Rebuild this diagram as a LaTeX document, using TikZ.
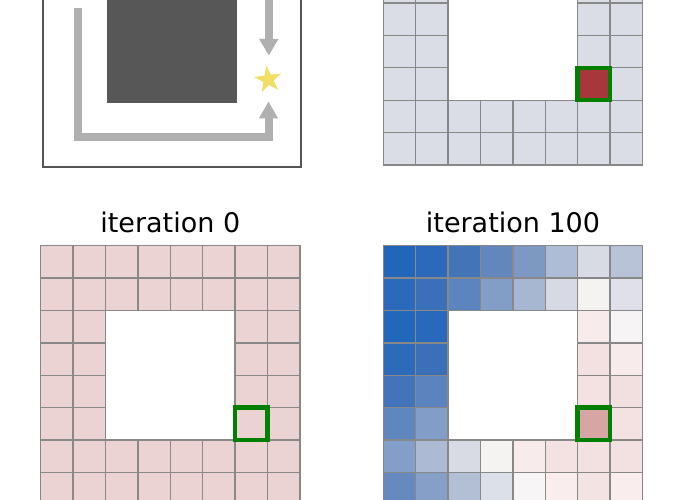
\documentclass[tikz,border=0pt]{standalone}
\usepackage{fontspec}
\setmainfont{DejaVu Sans}
\usetikzlibrary{shapes.geometric}
\definecolor{gridgray}{HTML}{888888}
\definecolor{arrowgray}{HTML}{B0B0B0}
\definecolor{obstgray}{HTML}{575757}
\definecolor{framegray}{HTML}{555555}
\definecolor{goalgreen}{HTML}{007F00}
\definecolor{staryellow}{HTML}{F0DF64}
\definecolor{lightcell}{HTML}{DADDE5}
\definecolor{pinkcell}{HTML}{EBD2D3}
\definecolor{redcell}{HTML}{A8373C}
\tikzset{
  cellbox/.style={draw=gridgray, line width=1.3pt},
  pathline/.style={draw=arrowgray, line width=8pt, line join=miter},
  headtri/.style={fill=arrowgray},
  goalbox/.style={draw=goalgreen, line width=4.5pt},
  titletext/.style={font=\fontsize{27}{32}\selectfont, anchor=base, inner sep=0pt},
  framebox/.style={draw=framegray, line width=2.2pt},
}
\begin{document}
\begin{tikzpicture}[x=1pt,y=-1pt]
\useasboundingbox (0,0) rectangle (680,500);
\clip (0,0) rectangle (680,500);
\fill[white] (0,0) rectangle (680,500);

% ---------- top left: maze sketch ----------
\fill[obstgray] (107.3,-100) rectangle (236.7,102.6);
\draw[framebox] (43.3,-100) -- (43.3,167.3) -- (301.3,167.3) -- (301.3,-100);
\coordinate (p0) at (78,8);
\coordinate (p1) at (78,137);
\coordinate (p2) at (268.5,137);
\coordinate (p3) at (268.5,118);
\coordinate (h1l) at (258.8,118.5);
\coordinate (h1r) at (278.2,118.5);
\coordinate (h1t) at (268.5,101.7);
\draw[pathline] (p0) -- (p1) -- (p2) -- (p3);
\fill[headtri] (h1l) -- (h1r) -- (h1t) -- cycle;
\coordinate (q0) at (268.8,-10);
\coordinate (q1) at (268.8,40);
\coordinate (h2l) at (259.1,39);
\coordinate (h2r) at (278.5,39);
\coordinate (h2t) at (268.8,55.3);
\draw[pathline] (q0) -- (q1);
\fill[headtri] (h2l) -- (h2r) -- (h2t) -- cycle;
\begin{scope}[shift={(268.3,79.6)}]
  \fill[staryellow] (98:14.2pt) -- (134:5.5pt) -- (170:14.2pt) -- (206:5.5pt) -- (242:14.2pt)
    -- (278:5.5pt) -- (314:14.2pt) -- (350:5.5pt) -- (26:14.2pt) -- (62:5.5pt) -- cycle;
\end{scope}

% ---------- top right: grid with goal ----------
\foreach \r in {0,...,7} {
  \foreach \c in {0,...,7} {
    \pgfmathtruncatemacro\hole{and(and(\c>1,\c<6),\r<6)}
    \ifnum\hole=0
      \fill[lightcell] ({383.3+\c*32.4},{-94.2+\r*32.4}) rectangle ++(32.4,32.4);
    \fi
  }
}
\fill[redcell] ({383.3+6*32.4},{-94.2+5*32.4}) rectangle ++(32.4,32.4);
\foreach \r in {0,...,7} {
  \foreach \c in {0,...,7} {
    \pgfmathtruncatemacro\hole{and(and(\c>1,\c<6),\r<6)}
    \ifnum\hole=0
      \draw[cellbox] ({383.3+\c*32.4},{-94.2+\r*32.4}) rectangle ++(32.4,32.4);
    \fi
  }
}
\draw[goalbox] ({383.3+6*32.4},{-94.2+5*32.4}) rectangle ++(32.4,32.4);

% ---------- bottom left: iteration 0 ----------
\node[titletext] (title0) at (170.3,232) {iteration 0};
\foreach \r in {0,...,7} {
  \foreach \c in {0,...,7} {
    \pgfmathtruncatemacro\hole{and(and(\c>1,\c<6),and(\r>1,\r<6))}
    \ifnum\hole=0
      \fill[pinkcell] ({40.7+\c*32.4},{245.7+\r*32.4}) rectangle ++(32.4,32.4);
    \fi
  }
}
\foreach \r in {0,...,7} {
  \foreach \c in {0,...,7} {
    \pgfmathtruncatemacro\hole{and(and(\c>1,\c<6),and(\r>1,\r<6))}
    \ifnum\hole=0
      \draw[cellbox] ({40.7+\c*32.4},{245.7+\r*32.4}) rectangle ++(32.4,32.4);
    \fi
  }
}
\draw[goalbox] ({40.7+6*32.4},{245.7+5*32.4}) rectangle ++(32.4,32.4);

% ---------- bottom right: iteration 100 ----------
\node[titletext] (title100) at (513,232) {iteration 100};
\foreach \r/\c/\h in {
  0/0/2066BB, 0/1/2C69BA, 0/2/4474B8, 0/3/6387BC, 0/4/7D99C3, 0/5/AEBCD5, 0/6/D9DBE4, 0/7/B9C3D7,
  1/0/2B69BB, 1/1/3A6FB9, 1/2/5C85BF, 1/3/829DC6, 1/4/A7B6D1, 1/5/D7DAE4, 1/6/F5F3F2, 1/7/DFE0E9,
  2/0/2167BB, 2/1/2969BB, 2/6/F8EBEB, 2/7/F6F4F4,
  3/0/2C6ABA, 3/1/3B70B9, 3/6/F3E0E0, 3/7/F7EBEB,
  4/0/4373B8, 4/1/5B84BF, 4/6/F4E1E1, 4/7/F2DFDF,
  5/0/5F86BD, 5/1/829DC7, 5/6/D6A5A4, 5/7/F4E2E2,
  6/0/839EC7, 6/1/ADBAD3, 6/2/D8DBE4, 6/3/F4F3F2, 6/4/F8EBEB, 6/5/F4E1E1, 6/6/F3E1E1, 6/7/F3E1E1,
  7/0/6689BF, 7/1/869FC6, 7/2/B3BFD5, 7/3/DCE0E9, 7/4/F7F5F5, 7/5/F9EDED, 7/6/F4E3E3, 7/7/F9EDED} {
  \definecolor{cellc}{HTML}{\h}
  \fill[cellc] ({383.3+\c*32.4},{245.7+\r*32.4}) rectangle ++(32.4,32.4);
}
\foreach \r in {0,...,7} {
  \foreach \c in {0,...,7} {
    \pgfmathtruncatemacro\hole{and(and(\c>1,\c<6),and(\r>1,\r<6))}
    \ifnum\hole=0
      \draw[cellbox] ({383.3+\c*32.4},{245.7+\r*32.4}) rectangle ++(32.4,32.4);
    \fi
  }
}
\draw[goalbox] ({383.3+6*32.4},{245.7+5*32.4}) rectangle ++(32.4,32.4);
\end{tikzpicture}
\end{document}
